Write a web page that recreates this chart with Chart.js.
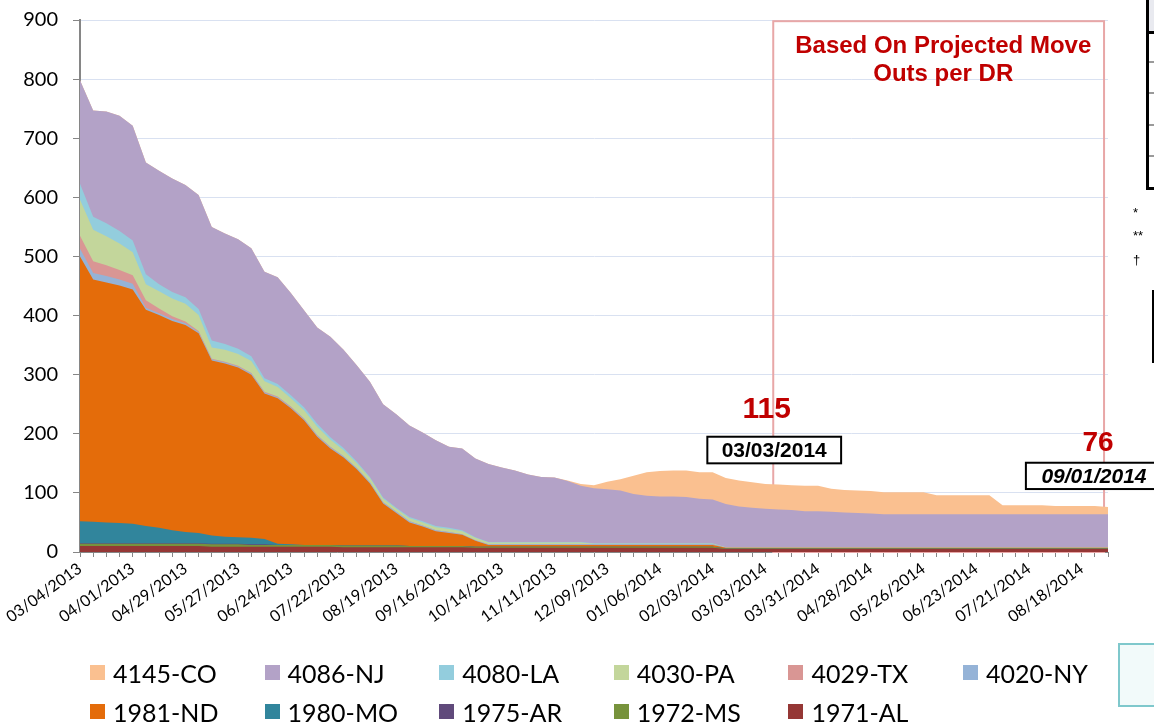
<!DOCTYPE html>
<html>
<head>
<meta charset="utf-8">
<script src="https://cdn.jsdelivr.net/npm/chart.js@4.4.1/dist/chart.umd.min.js"></script>
<style>
    html, body { margin: 0; padding: 0; background: #fff; }
    #wrap { position: relative; width: 1154px; height: 725px; overflow: hidden; font-family: Lato, sans-serif; }
    #chart { position: absolute; left: 0; top: 0; }
    #legend {
        position: absolute; left: 90px; top: 659px;
        display: grid; grid-template-columns: repeat(6, 174.6px); row-gap: 12px;
    }
    .lg-item { display: flex; align-items: center; height: 27px; font-size: 25px; color: #000; white-space: nowrap; }
    .lg-box { width: 15px; height: 15px; margin-right: 8px; flex: none; }
    .side { position: absolute; }
    .note { position: absolute; left: 1133px; font: 13px "Liberation Sans", Arial, sans-serif; color: #000; }
</style>
</head>
<body>
<div id="wrap">
    <canvas id="chart" width="1154" height="725"></canvas>
    <div id="legend"></div>

    <!-- slide bits cut off on the right -->
    <div class="side" style="left:1146px;top:-2px;width:12px;height:34px;background:#E9EAF0;"></div>
    <div class="side" style="left:1146px;top:-2px;width:3px;height:192px;background:#000;"></div>
    <div class="side" style="left:1146px;top:31px;width:12px;height:3px;background:#000;"></div>
    <div class="side" style="left:1149px;top:61px;width:9px;height:2px;background:#9a9a9a;"></div>
    <div class="side" style="left:1149px;top:92px;width:9px;height:2px;background:#9a9a9a;"></div>
    <div class="side" style="left:1149px;top:124px;width:9px;height:2px;background:#9a9a9a;"></div>
    <div class="side" style="left:1149px;top:155px;width:9px;height:2px;background:#9a9a9a;"></div>
    <div class="side" style="left:1146px;top:187px;width:12px;height:3px;background:#000;"></div>
    <div class="note" style="top:205px;">*</div>
    <div class="note" style="top:228px;">**</div>
    <div class="note" style="top:252px;">†</div>
    <div class="side" style="left:1152px;top:290px;width:3px;height:73px;background:#000;"></div>
    <div class="side" style="left:1118px;top:643px;width:40px;height:60px;border:2px solid #7FC8CC;background:#F2FAFA;"></div>
</div>

<script>
// weekly snapshots, 03/04/2013 .. 09/01/2014
const weeks = [
    '03/04/2013', '03/11/2013', '03/18/2013', '03/25/2013', '04/01/2013', '04/08/2013', '04/15/2013', '04/22/2013',
    '04/29/2013', '05/06/2013', '05/13/2013', '05/20/2013', '05/27/2013', '06/03/2013', '06/10/2013', '06/17/2013',
    '06/24/2013', '07/01/2013', '07/08/2013', '07/15/2013', '07/22/2013', '07/29/2013', '08/05/2013', '08/12/2013',
    '08/19/2013', '08/26/2013', '09/02/2013', '09/09/2013', '09/16/2013', '09/23/2013', '09/30/2013', '10/07/2013',
    '10/14/2013', '10/21/2013', '10/28/2013', '11/04/2013', '11/11/2013', '11/18/2013', '11/25/2013', '12/02/2013',
    '12/09/2013', '12/16/2013', '12/23/2013', '12/30/2013', '01/06/2014', '01/13/2014', '01/20/2014', '01/27/2014',
    '02/03/2014', '02/10/2014', '02/17/2014', '02/24/2014', '03/03/2014', '03/10/2014', '03/17/2014', '03/24/2014',
    '03/31/2014', '04/07/2014', '04/14/2014', '04/21/2014', '04/28/2014', '05/05/2014', '05/12/2014', '05/19/2014',
    '05/26/2014', '06/02/2014', '06/09/2014', '06/16/2014', '06/23/2014', '06/30/2014', '07/07/2014', '07/14/2014',
    '07/21/2014', '07/28/2014', '08/04/2014', '08/11/2014', '08/18/2014', '08/25/2014', '09/01/2014'
];

const yTicks = [0, 100, 200, 300, 400, 500, 600, 700, 800, 900];

// series, bottom of the stack first
const al1971 = [
    10, 10, 10, 10, 10, 10, 10, 10, 10, 10, 9, 9, 9, 9, 9, 9, 9, 9, 9, 9,
    8, 8, 8, 8, 8, 8, 8, 8, 8, 8, 7, 7, 7, 7, 7, 7, 7, 7, 7, 7,
    7, 7, 7, 7, 7, 7, 7, 7, 7, 5, 5, 5, 5, 5, 5, 5, 5, 5, 5, 5,
    5, 5, 5, 5, 5, 5, 5, 5, 5, 5, 5, 5, 5, 5, 5, 5, 5, 5, 5
];
const ms1972 = [
    4, 4, 4, 4, 4, 4, 4, 4, 4, 4, 4, 4, 4, 3, 3, 3, 3, 3, 3, 3,
    3, 3, 3, 3, 3, 2, 2, 2, 2, 2, 2, 2, 2, 2, 2, 2, 2, 2, 2, 2,
    2, 2, 2, 2, 2, 2, 2, 2, 2, 1, 1, 1, 1, 1, 1, 1, 1, 1, 1, 1,
    1, 1, 1, 1, 1, 1, 1, 1, 1, 1, 1, 1, 1, 1, 1, 1, 1, 1, 1
];
const ar1975 = [
    1, 1, 1, 1, 1, 1, 1, 1, 1, 1, 1, 1, 1, 1, 1, 0, 0, 0, 0, 0,
    0, 0, 0, 0, 0, 0, 0, 0, 0, 0, 0, 0, 0, 0, 0, 0, 0, 0, 0, 0,
    0, 0, 0, 0, 0, 0, 0, 0, 0, 0, 0, 0, 0, 0, 0, 0, 0, 0, 0, 0,
    0, 0, 0, 0, 0, 0, 0, 0, 0, 0, 0, 0, 0, 0, 0, 0, 0, 0, 0
];
const mo1980 = [
    37, 36, 35, 34, 33, 29, 26, 22, 19, 17, 14, 12, 11, 11, 9, 2, 1, 0, 0, 0,
    0, 0, 0, 0, 0, 0, 0, 0, 0, 0, 0, 0, 0, 0, 0, 0, 0, 0, 0, 0,
    0, 0, 0, 0, 0, 0, 0, 0, 0, 0, 0, 0, 0, 0, 0, 0, 0, 0, 0, 0,
    0, 0, 0, 0, 0, 0, 0, 0, 0, 0, 0, 0, 0, 0, 0, 0, 0, 0, 0
];
const nd1981 = [
    448, 410, 406, 402, 396, 366, 360, 354, 350, 338, 296, 293, 287, 276, 246, 246, 230, 211, 183, 163,
    149, 129, 105, 71, 55, 40, 33, 25, 22, 19, 10, 3, 3, 3, 3, 3, 3, 3, 3, 3,
    3, 3, 3, 3, 3, 3, 3, 3, 3, 1, 1, 1, 1, 1, 1, 1, 1, 1, 1, 1,
    1, 1, 1, 1, 1, 1, 1, 1, 1, 1, 1, 1, 1, 1, 1, 1, 1, 1, 1
];
const ny4020 = [
    13, 11, 11, 10, 10, 3, 3, 3, 3, 2, 2, 2, 2, 2, 2, 2, 2, 2, 2, 2,
    2, 2, 2, 2, 2, 2, 2, 2, 2, 1, 1, 1, 1, 1, 1, 1, 1, 1, 1, 1,
    1, 1, 1, 1, 1, 1, 1, 1, 1, 0, 0, 0, 0, 0, 0, 0, 0, 0, 0, 0,
    0, 0, 0, 0, 0, 0, 0, 0, 0, 0, 0, 0, 0, 0, 0, 0, 0, 0, 0
];
const tx4029 = [
    22, 20, 18, 16, 14, 13, 8, 5, 3, 2, 1, 1, 1, 1, 1, 1, 1, 1, 1, 1,
    0, 0, 0, 0, 0, 0, 0, 0, 0, 0, 0, 0, 0, 0, 0, 0, 0, 0, 0, 0,
    0, 0, 0, 0, 0, 0, 0, 0, 0, 0, 0, 0, 0, 0, 0, 0, 0, 0, 0, 0,
    0, 0, 0, 0, 0, 0, 0, 0, 0, 0, 0, 0, 0, 0, 0, 0, 0, 0, 0
];
const pa4030 = [
    61, 53, 49, 45, 39, 27, 29, 30, 30, 27, 19, 20, 20, 20, 18, 16, 14, 14, 14, 12,
    10, 8, 7, 6, 5, 5, 5, 5, 5, 5, 4, 3, 3, 3, 3, 3, 3, 3, 3, 1,
    1, 1, 1, 1, 1, 1, 1, 1, 1, 1, 1, 1, 1, 1, 1, 1, 1, 1, 1, 1,
    1, 1, 1, 1, 1, 1, 1, 1, 1, 1, 1, 1, 1, 1, 1, 1, 1, 1, 1
];
const la4080 = [
    27, 22, 22, 21, 20, 17, 12, 11, 11, 10, 12, 10, 9, 8, 5, 5, 5, 5, 5, 4,
    4, 3, 2, 2, 2, 2, 2, 2, 2, 2, 1, 1, 1, 1, 1, 1, 1, 1, 1, 1,
    1, 1, 1, 1, 1, 1, 1, 1, 1, 0, 0, 0, 0, 0, 0, 0, 0, 0, 0, 0,
    0, 0, 0, 0, 0, 0, 0, 0, 0, 0, 0, 0, 0, 0, 0, 0, 0, 0, 0
];
const nj4086 = [
    175, 180, 189, 195, 194, 189, 192, 192, 190, 193, 192, 187, 185, 183, 180, 181, 173, 164, 163, 170,
    166, 163, 161, 158, 158, 155, 150, 145, 137, 138, 133, 132, 126, 121, 114, 110, 109, 103, 95, 93,
    91, 89, 83, 80, 79, 79, 78, 75, 74, 73, 69, 67, 65, 64, 63, 61, 61, 60, 59, 58,
    57, 56, 56, 56, 56, 56, 56, 56, 56, 56, 56, 56, 56, 56, 56, 56, 56, 56, 56
];
const co4145 = [
    0, 0, 0, 0, 0, 0, 0, 0, 0, 0, 0, 0, 0, 0, 0, 0, 0, 0, 0, 0,
    0, 0, 0, 0, 0, 0, 0, 0, 0, 0, 0, 0, 0, 0, 0, 0, 0, 1, 3, 5,
    13, 19, 31, 40, 43, 44, 45, 45, 46, 44, 44, 43, 42, 42, 42, 43, 43, 39, 38, 38,
    38, 37, 37, 37, 37, 32, 32, 32, 32, 32, 15, 15, 15, 15, 14, 14, 14, 14, 12
];

const layers = [
    { name: '1971-AL', color: '#953735', data: al1971 },
    { name: '1972-MS', color: '#77933C', data: ms1972 },
    { name: '1975-AR', color: '#604A7B', data: ar1975 },
    { name: '1980-MO', color: '#31859C', data: mo1980 },
    { name: '1981-ND', color: '#E46C0A', data: nd1981 },
    { name: '4020-NY', color: '#95B3D7', data: ny4020 },
    { name: '4029-TX', color: '#D99694', data: tx4029 },
    { name: '4030-PA', color: '#C3D69B', data: pa4030 },
    { name: '4080-LA', color: '#93CDDD', data: la4080 },
    { name: '4086-NJ', color: '#B3A2C7', data: nj4086 },
    { name: '4145-CO', color: '#FAC090', data: co4145 }
];

// callouts, placed in data coordinates (x = week index)
const callouts = [
    { text: 'Based On Projected Move', x: 65.5, y: 845, font: 'bold 24px', color: '#C00000' },
    { text: 'Outs per DR', x: 65.5, y: 796, font: 'bold 24px', color: '#C00000' },
    { text: '115', x: 52.1, y: 226, font: 'bold 30px', color: '#C00000' },
    { text: '76', x: 77.25, y: 171, font: 'bold 28px', color: '#C00000' }
];
const dateTags = [
    { text: '03/03/2014', x0: 47.6, x1: 57.75, yTop: 195, yBot: 150, font: 'bold 21px' },
    { text: '09/01/2014', x0: 71.77, x1: 82.1, yTop: 151, yBot: 106.5, font: 'italic bold 21px' }
];
const projectionBox = { x0: 52.6, x1: 77.7, yTop: 898, yBot: 0 };

const FONT_ARIAL = '"Liberation Sans", Arial, sans-serif';

const annotationPlugin = {
    id: 'annotations',
    beforeDatasetsDraw(chart) {
        const { ctx, scales: { x, y } } = chart;
        const l = x.getPixelForValue(projectionBox.x0);
        const r = x.getPixelForValue(projectionBox.x1);
        const t = y.getPixelForValue(projectionBox.yTop);
        const b = y.getPixelForValue(projectionBox.yBot);
        ctx.save();
        ctx.strokeStyle = '#E8A7A7';
        ctx.lineWidth = 2;
        ctx.strokeRect(l, t, r - l, b - t);
        ctx.restore();
    },
    afterDatasetsDraw(chart) {
        const { ctx, scales: { x, y } } = chart;
        ctx.save();
        ctx.textAlign = 'center';
        ctx.textBaseline = 'alphabetic';
        callouts.forEach(c => {
            ctx.font = `${c.font} ${FONT_ARIAL}`;
            ctx.fillStyle = c.color;
            ctx.fillText(c.text, x.getPixelForValue(c.x), y.getPixelForValue(c.y));
        });
        dateTags.forEach(tag => {
            const l = x.getPixelForValue(tag.x0), r = x.getPixelForValue(tag.x1);
            const t = y.getPixelForValue(tag.yTop), b = y.getPixelForValue(tag.yBot);
            ctx.fillStyle = '#fff';
            ctx.fillRect(l, t, r - l, b - t);
            ctx.strokeStyle = '#000';
            ctx.lineWidth = 2;
            ctx.strokeRect(l, t, r - l, b - t);
            ctx.font = `${tag.font} ${FONT_ARIAL}`;
            ctx.fillStyle = '#000';
            ctx.textBaseline = 'middle';
            ctx.fillText(tag.text, (l + r) / 2, (t + b) / 2 + 1);
            ctx.textBaseline = 'alphabetic';
        });
        ctx.restore();
    }
};

// html legend, same order as the source (top of the stack first)
const legendEl = document.getElementById('legend');
legendEl.innerHTML = [...layers].reverse().map(l => `
    <div class="lg-item"><span class="lg-box" style="background:${l.color}"></span>${l.name}</div>
`).join('');

const ctx = document.getElementById('chart').getContext('2d');
new Chart(ctx, {
    type: 'line',
    data: {
        labels: weeks,
        datasets: layers.map(l => ({
            label: l.name,
            data: l.data,
            backgroundColor: l.color,
            borderColor: 'rgba(0,0,0,0)',
            borderWidth: 0,
            pointRadius: 0,
            tension: 0,
            fill: 'origin'
        }))
    },
    options: {
        responsive: false,
        animation: false,
        events: [],
        layout: { padding: { left: 0, top: 20, right: 46, bottom: 78 } },
        plugins: { legend: { display: false }, tooltip: { enabled: false } },
        scales: {
            x: {
                grid: { drawOnChartArea: false, drawTicks: true, tickLength: 5, tickColor: '#868686', lineWidth: 1 },
                border: { color: '#868686', width: 1 },
                ticks: {
                    autoSkip: false,
                    minRotation: 36,
                    maxRotation: 36,
                    padding: 2,
                    color: '#000',
                    font: { family: 'Lato', size: 16 },
                    callback: (v, i) => (i % 4 === 0 ? weeks[i] : '')
                },
                afterFit: scale => { scale.height = 95; }
            },
            y: {
                stacked: true,
                min: yTicks[0],
                max: yTicks[yTicks.length - 1],
                afterBuildTicks: scale => { scale.ticks = yTicks.map(v => ({ value: v })); },
                grid: { color: '#D9E1F1', lineWidth: 1, tickColor: '#868686', tickLength: 7 },
                border: { color: '#868686', width: 2 },
                ticks: { color: '#000', padding: 15, font: { family: 'Lato', size: 20 } },
                afterFit: scale => {
                    scale.width = 80;
                    // label padding would otherwise push the plot top down
                    scale.paddingTop = 0;
                    scale.paddingBottom = 0;
                }
            }
        }
    },
    plugins: [annotationPlugin]
});
</script>
</body>
</html>
